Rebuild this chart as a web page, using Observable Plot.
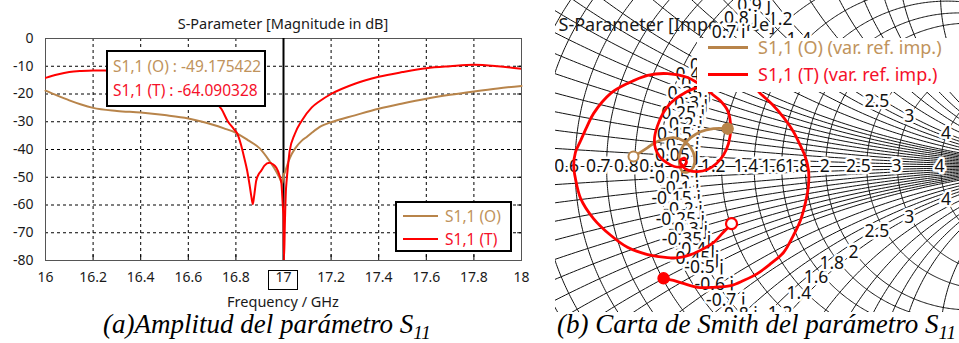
<!DOCTYPE html>
<html><head><meta charset="utf-8">
<script src="https://cdn.jsdelivr.net/npm/d3@7"></script>
<script src="https://cdn.jsdelivr.net/npm/@observablehq/plot@0.6"></script>
<style>
html,body{margin:0;padding:0;background:#fff;width:959px;height:343px;overflow:hidden;}
#root{position:relative;width:959px;height:343px;font-family:"Noto Sans",sans-serif;color:#1a1a1a;}
.abs{position:absolute;white-space:nowrap;}
.cap{font-family:"Liberation Serif",serif;font-style:italic;font-size:27px;line-height:27px;color:#000;}
.cap sub{font-size:19px;vertical-align:baseline;position:relative;top:6px;}
.box{background:#fff;border:2px solid #000;box-sizing:border-box;}
</style></head>
<body><div id="root"></div>
<script>
// ---------------- data ----------------
const xTicks = [16, 16.2, 16.4, 16.6, 16.8, 17, 17.2, 17.4, 17.6, 17.8, 18];
const yTicks = [0, -10, -20, -30, -40, -50, -60, -70, -80];
const markerFreq = 17;
const seriesNames = ["S1,1 (O)", "S1,1 (T)"];
const markerValues = ["-49.175422", "-64.090328"];

const freqO = [16.0,16.05,16.1,16.15,16.2,16.3,16.4,16.5,16.6,16.65,16.7,16.75,16.8,16.85,16.9,16.94,16.97,16.985,16.995,17.0,17.005,17.02,17.034,17.05,17.076,17.1,17.12,17.16,17.2,17.3,17.4,17.5,17.6,17.7,17.8,17.9,18.0];
const dbO   = [-18.8,-20.6,-22.3,-23.8,-25.0,-26.1,-26.7,-27.6,-28.8,-29.8,-31.0,-32.4,-34.0,-36.6,-39.6,-44.0,-48.0,-50.5,-52.2,-49.2,-48.4,-44.5,-41.7,-39.5,-36.9,-35.3,-33.9,-31.5,-30.2,-27.7,-25.3,-23.4,-21.7,-20.3,-19.1,-18.0,-17.1];

const freqT = [16.0,16.05,16.1,16.15,16.2,16.25,16.3,16.4,16.5,16.6,16.65,16.708,16.74,16.765,16.79,16.807,16.822,16.835,16.847,16.857,16.865,16.871,16.877,16.885,16.895,16.906,16.92,16.941,16.955,16.97,16.982,16.991,16.995,16.998,17.0,17.002,17.006,17.01,17.013,17.02,17.026,17.047,17.076,17.118,17.153,17.2,17.3,17.4,17.5,17.6,17.7,17.8,17.9,18.0];
const dbT   = [-14.2,-13.0,-12.1,-11.7,-11.5,-11.5,-11.8,-12.6,-14.2,-17.5,-20.0,-22.5,-25.5,-29.7,-32.5,-34.5,-38.5,-43.0,-47.5,-52.5,-57.0,-59.7,-56.5,-51.4,-49.0,-47.7,-45.8,-44.8,-45.3,-46.6,-49.0,-52.0,-57.0,-61.5,-64.1,-80,-66,-55,-51.4,-45.0,-40.5,-34.5,-29.7,-24.9,-22.5,-20.0,-16.3,-13.8,-12.1,-10.7,-10.0,-9.5,-10.0,-10.9];

// Smith chart traces (reflection coefficient, real / imaginary)
const smithOre = [-0.114,-0.098,-0.081,-0.063,-0.044,-0.021,0.002,0.019,0.028,0.026,0.014,0.000,-0.007,-0.007,0.002,0.019,0.042,0.072,0.105];
const smithOim = [0.023,0.033,0.044,0.056,0.063,0.067,0.060,0.044,0.021,0.000,-0.012,-0.012,0.005,0.028,0.049,0.067,0.081,0.088,0.088];
const smithTre = [0.114,0.095,0.072,0.049,0.019,-0.009,-0.035,-0.081,-0.128,-0.167,-0.207,-0.237,-0.249,-0.253,-0.249,-0.237,-0.223,-0.207,-0.167,-0.128,-0.081,-0.035,0.012,0.037,0.049,
  0.026,-0.005,-0.028,-0.044,-0.058,-0.065,-0.063,-0.053,-0.037,-0.019,0.000,0.009,0.005,-0.005,0.000,0.014,0.035,0.058,0.079,0.095,0.107,0.112,0.105,0.088,0.065,
  0.051,0.056,0.084,0.123,0.158,0.181,
  0.209,0.235,0.258,0.274,0.286,0.293,0.293,0.286,0.274,0.258,0.235,0.205,0.174,0.142,0.112,0.072,0.035,0.002,-0.021,-0.044];
const smithTim = [-0.133,-0.153,-0.177,-0.191,-0.205,-0.212,-0.212,-0.205,-0.188,-0.160,-0.121,-0.074,-0.028,0.002,0.033,0.060,0.091,0.123,0.170,0.193,0.212,0.216,0.207,0.193,0.186,
  0.181,0.165,0.147,0.126,0.095,0.067,0.042,0.023,0.009,0.000,0.000,0.009,0.019,0.014,0.000,-0.009,-0.012,-0.007,0.007,0.026,0.053,0.091,0.130,0.153,0.172,
  0.191,0.209,0.223,0.219,0.195,0.170,
  0.144,0.114,0.081,0.049,0.021,-0.009,-0.044,-0.084,-0.126,-0.160,-0.200,-0.226,-0.249,-0.265,-0.277,-0.281,-0.281,-0.272,-0.265,-0.260];

// Smith grid values
const rCircles = [0.05,0.1,0.15,0.2,0.25,0.3,0.35,0.4,0.45,0.5,0.6,0.7,0.8,0.9,1,1.2,1.4,1.6,1.8,2,2.5,3,4,5,10,20,50];
const xArcs = [0.05,0.1,0.15,0.2,0.25,0.3,0.35,0.4,0.45,0.5,0.6,0.7,0.8,0.9,1,1.2,1.4,1.6,1.8,2,2.5,3,4,5,10,20,50];
const axisRLabels = [0.6,0.7,0.8,0.9,1.2,1.4,1.6,1.8,2,2.5,3,4];
const arcRLabels = [1.2,1.4,1.6,1.8,2,2.5,3,4];
const reactLabels = [0.9,0.8,0.7,0.6,0.5,0.45,0.4,0.35,0.3,0.25,0.2,0.15,0.1,0.05,-0.05,-0.1,-0.15,-0.2,-0.25,-0.3,-0.35,-0.4,-0.45,-0.5,-0.6,-0.7,-0.8,-0.9];

// ---------------- style ----------------
const FONT = '"Noto Sans", sans-serif';
const BROWN = "#b8844a";
const BROWN_TXT = "#c0935c";
const RED = "#ff0000";
const RED_TXT = "#f5102a";

const root = document.getElementById("root");
function place(el, left, top) { el.style.position = "absolute"; el.style.left = left + "px"; el.style.top = top + "px"; root.appendChild(el); return el; }
function div(html, cls, css) { const d = document.createElement("div"); d.className = "abs " + (cls || ""); d.innerHTML = html; Object.assign(d.style, css || {}); root.appendChild(d); return d; }

// ---------------- left chart ----------------
const dataO = freqO.map((f, i) => ({f, db: dbO[i]}));
const dataT = freqT.map((f, i) => ({f, db: dbT[i]}));
const xDom = [xTicks[0], xTicks[xTicks.length - 1]];
const yDom = [yTicks[yTicks.length - 1], yTicks[0]];

const left = Plot.plot({
  width: 540, height: 300,
  marginLeft: 45, marginRight: 19, marginTop: 38, marginBottom: 40,
  style: {fontFamily: FONT, fontSize: "14px", color: "#1a1a1a", background: "transparent"},
  x: {domain: xDom, ticks: xTicks, tickFormat: d => String(d), tickSize: 0, tickPadding: 12, label: null},
  y: {domain: yDom, ticks: yTicks, tickFormat: d => String(d), tickSize: 0, tickPadding: 12, label: null},
  marks: [
    Plot.ruleX(xTicks.slice(1, -1), {stroke: "#000", strokeWidth: 1, strokeDasharray: "3,3"}),
    Plot.ruleY(yTicks.slice(1, -1), {stroke: "#000", strokeWidth: 1, strokeDasharray: "3,3"}),
    Plot.ruleX(xTicks, {y1: yDom[0], y2: yDom[0] + 2, stroke: "#000"}),
    Plot.ruleY(yTicks, {x1: xDom[1] - 0.016, x2: xDom[1], stroke: "#000"}),
    Plot.frame({stroke: "#555"}),
    Plot.ruleX([markerFreq], {stroke: "#000", strokeWidth: 2}),
    Plot.line(dataO, {x: "f", y: "db", stroke: BROWN, strokeWidth: 2, curve: "monotone-x"}),
    Plot.line(dataT, {x: "f", y: "db", stroke: RED, strokeWidth: 2, curve: "monotone-x", clip: true})
  ]
});
place(left, 0, 0);

div("S-Parameter [Magnitude in dB]", "", {left: "283px", top: "13px", transform: "translateX(-50%)", fontSize: "14.5px", lineHeight: "20px"});
div("Frequency / GHz", "", {left: "283px", top: "291px", transform: "translateX(-50%)", fontSize: "14.5px", lineHeight: "20px"});
div("", "", {left: "268px", top: "270px", width: "30px", height: "20px", border: "1px solid #000", boxSizing: "border-box"});

// marker annotation box
const ann = div("", "box", {left: "106px", top: "50px", width: "160px", height: "57px"});
ann.innerHTML = `<div style="position:absolute;left:5px;top:3px;font-size:15.5px;line-height:22px;color:${BROWN_TXT}">${seriesNames[0]} : ${markerValues[0]}</div>
<div style="position:absolute;left:5px;top:27px;font-size:15.5px;line-height:22px;color:${RED_TXT}">${seriesNames[1]} : ${markerValues[1]}</div>`;

// legend box
const leg = div("", "box", {left: "395px", top: "201px", width: "117px", height: "51px"});
leg.innerHTML = `<div style="position:absolute;left:6px;top:12px;width:35px;height:0;border-top:2.5px solid ${BROWN}"></div>
<div style="position:absolute;left:48px;top:2px;font-size:15.5px;line-height:22px;color:${BROWN_TXT}">${seriesNames[0]}</div>
<div style="position:absolute;left:6px;top:35px;width:35px;height:0;border-top:2.5px solid ${RED}"></div>
<div style="position:absolute;left:48px;top:25px;font-size:15.5px;line-height:22px;color:${RED_TXT}">${seriesNames[1]}</div>`;

div("(a)Amplitud del parámetro S<sub>11</sub>", "cap", {left: "103px", top: "311px"});

// ---------------- Smith chart ----------------
const gridPts = [];
rCircles.forEach((r, i) => {
  for (let k = 0; k <= 720; k++) {
    const t = 2 * Math.PI * k / 720;
    gridPts.push({id: "r" + i, re: r / (1 + r) + Math.cos(t) / (1 + r), im: Math.sin(t) / (1 + r)});
  }
});
const rSamples = [0, ...d3.range(-300, 401).map(k => Math.pow(10, k / 100))];
xArcs.forEach((x, i) => {
  for (const s of [1, -1]) {
    const xx = s * x;
    for (const r of rSamples) {
      const d = (r + 1) * (r + 1) + xx * xx;
      gridPts.push({id: "x" + i + "_" + s, re: (r * r - 1 + xx * xx) / d, im: 2 * xx / d});
    }
  }
});
const zToG = (r, x) => { const d = (r + 1) * (r + 1) + x * x; return {re: (r * r - 1 + x * x) / d, im: 2 * x / d}; };

const axisLab = axisRLabels.map(r => ({...zToG(r, 0), t: String(r)}));
const arcLab = [...arcRLabels.map(r => ({...zToG(r, 1), t: String(r)})), ...arcRLabels.map(r => ({...zToG(r, -1), t: String(r)}))];
const reactLab = reactLabels.map(x => ({...zToG(1, x), t: String(x) + " j"}));

const traceO = smithOre.map((re, i) => ({re, im: smithOim[i]}));
const traceT = smithTre.map((re, i) => ({re, im: smithTim[i]}));

const SW = 404, SH = 312;
const sx = [-0.29535, 0.64419], sy = [-0.33953, 0.38605];
const labStyle = {fontSize: 17.5, fontFamily: FONT, fill: "#111", stroke: "white", strokeWidth: 5, paintOrder: "stroke", clip: true};

const smith = Plot.plot({
  width: SW, height: SH, margin: 0,
  style: {fontFamily: FONT, background: "white"},
  x: {domain: sx, axis: null},
  y: {domain: sy, axis: null},
  marks: [
    Plot.line(gridPts, {x: "re", y: "im", z: "id", stroke: "#111", strokeWidth: 1, clip: true}),
    Plot.ruleY([0], {stroke: "#111"}),
    Plot.text(["S-Parameter [Impedance]"], {frameAnchor: "top-left", dx: 3, dy: 18, textAnchor: "start", fontSize: 18, fill: "#1a1a1a"}),
    Plot.text(axisLab, {x: "re", y: "im", text: "t", textAnchor: "end", dx: 4, ...labStyle}),
    Plot.text(arcLab, {x: "re", y: "im", text: "t", textAnchor: "end", dx: 4, ...labStyle}),
    Plot.text(reactLab, {x: "re", y: "im", text: "t", textAnchor: "end", dx: 16, ...labStyle}),
    Plot.line(traceO, {x: "re", y: "im", stroke: BROWN, strokeWidth: 2.8, curve: "catmull-rom"}),
    Plot.line(traceT, {x: "re", y: "im", stroke: RED, strokeWidth: 2.8, curve: "catmull-rom"}),
    Plot.dot([traceO[0]], {x: "re", y: "im", r: 5, fill: "white", stroke: BROWN, strokeWidth: 2}),
    Plot.dot([traceO[traceO.length - 1]], {x: "re", y: "im", r: 5.5, fill: BROWN, stroke: BROWN}),
    Plot.dot([traceT[0]], {x: "re", y: "im", r: 5.5, fill: "white", stroke: RED, strokeWidth: 2.2}),
    Plot.dot([traceT[traceT.length - 1]], {x: "re", y: "im", r: 5.5, fill: RED, stroke: RED})
  ]
});
place(smith, 555, 0);

const sleg = div("", "", {left: "697px", top: "38px", width: "262px", height: "54px", background: "#fff"});
sleg.innerHTML = `<div style="position:absolute;left:11px;top:8px;width:40px;height:0;border-top:3px solid ${BROWN}"></div>
<div style="position:absolute;left:61px;top:-4px;font-size:18px;line-height:26px;color:${BROWN_TXT}">${seriesNames[0]} (var. ref. imp.)</div>
<div style="position:absolute;left:11px;top:35px;width:40px;height:0;border-top:3px solid ${RED}"></div>
<div style="position:absolute;left:61px;top:23px;font-size:18px;line-height:26px;color:${RED_TXT}">${seriesNames[1]} (var. ref. imp.)</div>`;

div("(b) Carta de Smith del parámetro S<sub>11</sub>", "cap", {left: "557px", top: "311px"});
</script>
</body></html>
